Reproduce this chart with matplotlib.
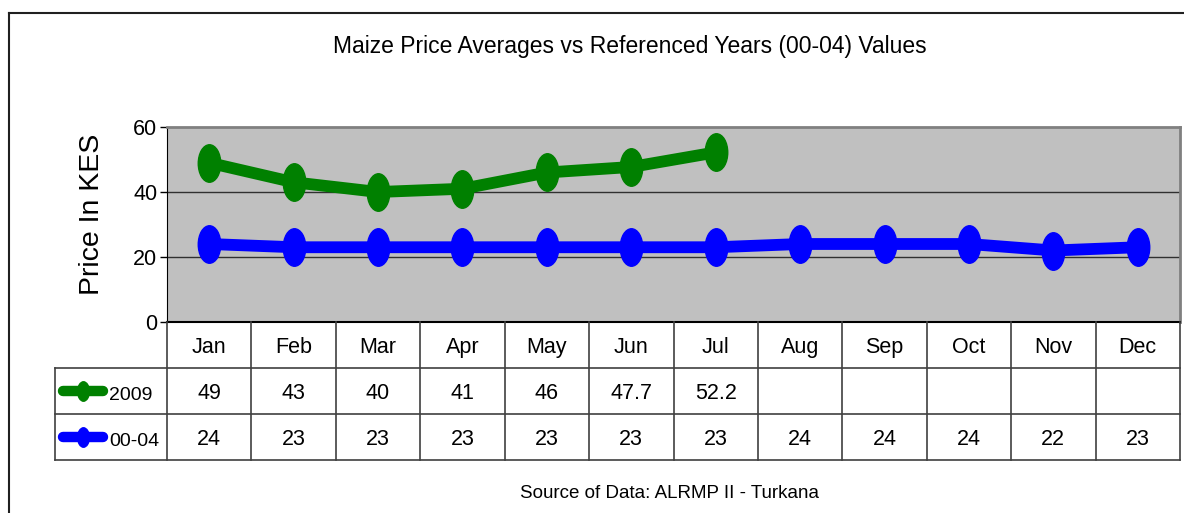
import matplotlib
matplotlib.use("Agg")
import numpy as np
import matplotlib.pyplot as plt
from matplotlib.path import Path
from matplotlib.transforms import Affine2D
from matplotlib.lines import Line2D

# data
months = ['Jan', 'Feb', 'Mar', 'Apr', 'May', 'Jun', 'Jul', 'Aug', 'Sep', 'Oct', 'Nov', 'Dec']
price_2009 = [49, 43, 40, 41, 46, 47.7, 52.2]
price_0004 = [24, 23, 23, 23, 23, 23, 23, 24, 24, 24, 22, 23]
series_names = ['2009', '00-04']
y_ticks = [0, 20, 40, 60]

plt.rcParams['font.family'] = ['Liberation Sans', 'DejaVu Sans']

W, H = 1184, 513
fig = plt.figure(figsize=(W / 100, H / 100), dpi=100)


def fx(px):
    return px / W


def fy(py):
    return 1 - py / H


# outer chart frame (right and bottom edges are outside the picture)
fig.add_artist(Line2D([fx(9), 1], [fy(13), fy(13)], color='#202020', lw=1.5))
fig.add_artist(Line2D([fx(9), fx(9)], [0, fy(13)], color='#202020', lw=1.5))

# tall ellipse marker like Excel
ell = Path.unit_circle().transformed(Affine2D().scale(0.6, 1.0))

x_left, x_right, y_top, y_bot = 167, 1180, 127, 322
ax = fig.add_axes([fx(x_left), fy(y_bot), fx(x_right) - fx(x_left), fy(y_top) - fy(y_bot)])
ax.set_facecolor('#c0c0c0')
x = np.arange(len(months)) + 0.5
ax.plot(x[:len(price_2009)], price_2009, color='#008000', lw=8.5, marker=ell, ms=27,
        solid_joinstyle='round', zorder=3)
ax.plot(x, price_0004, color='#0000ff', lw=8.5, marker=ell, ms=27,
        solid_joinstyle='round', zorder=3)
ax.set_xlim(0, 12)
ax.set_ylim(0, 60)
ax.set_xticks([])
ax.set_yticks(y_ticks)
ax.tick_params(axis='y', direction='out', length=5, width=1, labelsize=15.5, pad=2)
for g in [20, 40]:
    ax.axhline(g, color='#303030', lw=1, zorder=1)
ax.spines['top'].set_color('#808080')
ax.spines['top'].set_linewidth(2)
ax.spines['right'].set_color('#808080')
ax.spines['right'].set_linewidth(2)
ax.spines['left'].set_color('#000000')
ax.spines['bottom'].set_visible(False)

fig.text(fx(92), fy(214), 'Price In KES', rotation=90, ha='center', va='center', fontsize=20.5)
fig.text(fx(630), fy(47), 'Maize Price Averages vs Referenced Years (00-04) Values',
         ha='center', va='center', fontsize=16.5)
fig.text(fx(669), fy(494), 'Source of Data: ALRMP II - Turkana',
         ha='center', va='center', fontsize=13.5)

# data table under the plot
t_left, t_bot = 55, 460
col_w = (x_right - x_left) / 12
tab = fig.add_axes([fx(t_left), fy(t_bot), fx(x_right) - fx(t_left), fy(y_bot) - fy(t_bot)])
x0 = -(x_left - t_left) / col_w
tab.set_xlim(x0, 12)
tab.set_ylim(3, 0)
tab.axis('off')
lc = '#404040'
tab.plot([0, 12], [0, 0], color='#000000', lw=1.5, clip_on=False)
for r in [1, 2, 3]:
    tab.plot([x0, 12], [r, r], color=lc, lw=1.2, clip_on=False)
for c in range(13):
    tab.plot([c, c], [0, 3], color=lc, lw=1.2, clip_on=False)
tab.plot([x0, x0], [1, 3], color=lc, lw=1.2, clip_on=False)

for i, m in enumerate(months):
    tab.text(i + 0.5, 0.56, m, ha='center', va='center', fontsize=15.5)
for i, v in enumerate(price_2009):
    tab.text(i + 0.5, 1.56, f'{v:g}', ha='center', va='center', fontsize=15.5)
for i, v in enumerate(price_0004):
    tab.text(i + 0.5, 2.56, f'{v:g}', ha='center', va='center', fontsize=15.5)

# legend keys in the first column
leg_a = (63 - x_left) / col_w
leg_b = (103 - x_left) / col_w
for r, (name, col) in enumerate(zip(series_names, ['#008000', '#0000ff'])):
    yy = r + 1.5
    tab.plot([leg_a, leg_b], [yy, yy], color=col, lw=7.5, solid_capstyle='round', clip_on=False)
    tab.plot([(leg_a + leg_b) / 2], [yy], color=col, marker=ell, ms=14, clip_on=False)
    tab.text((109 - x_left) / col_w, yy + 0.1, name, ha='left', va='center', fontsize=14)

fig.savefig('out.png', dpi=100)
